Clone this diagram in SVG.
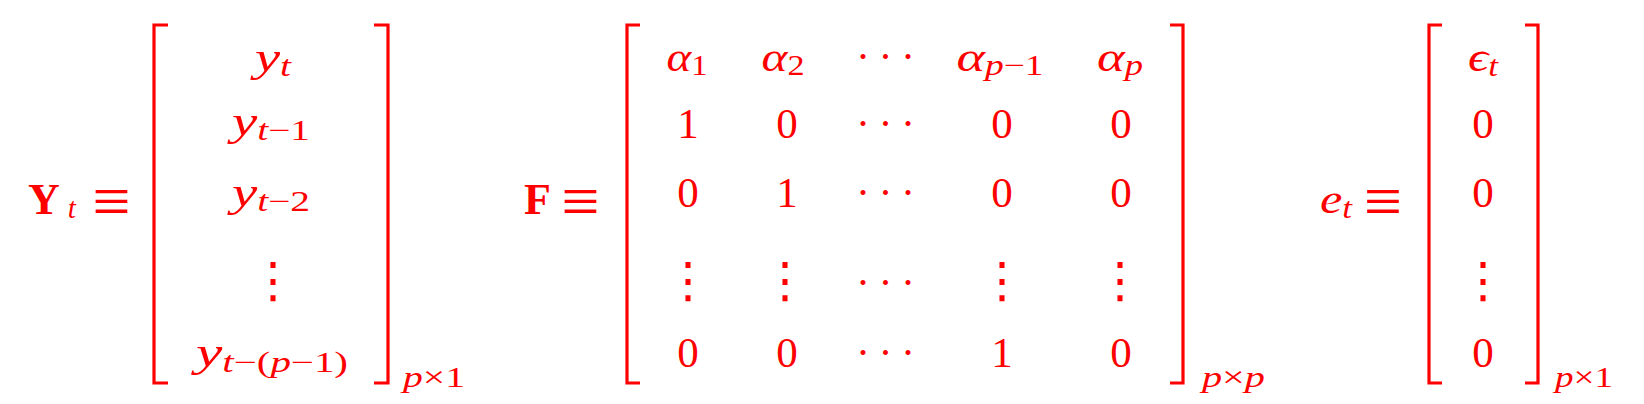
<svg xmlns="http://www.w3.org/2000/svg" width="1644" height="404" viewBox="0 0 1644 404">
<style>
.m{font-family:"Liberation Serif","DejaVu Serif",serif;fill:#ff0000;font-size:42px}
.d{font-size:43px}
.i{font-style:italic}
.b{font-weight:bold;font-size:44px}
.s{font-size:29px;font-weight:normal}
.eq{font-family:"Liberation Serif","DejaVu Serif",serif;fill:#ff0000;font-size:68px}
.vd{font-family:"DejaVu Sans",sans-serif;fill:#ff0000;font-size:49px}
.cd{letter-spacing:8.5px}
.br{fill:none;stroke:#ff0000;stroke-width:3.2}
</style>
<rect width="1644" height="404" fill="#ffffff"/>
<g id="Y-def">
<text class="m b" x="28" y="214">Y<tspan class="s i" dx="8" dy="4">t</tspan></text>
<text class="eq" x="111.5" y="224" text-anchor="middle">≡</text>
<path class="br" d="M168,25H154V383H168M374,25H388V383H374"/>
<text class="m" x="273" y="71" text-anchor="middle" textLength="36" lengthAdjust="spacingAndGlyphs"><tspan class="i">y</tspan><tspan class="s i" dy="5">t</tspan></text>
<text class="m" x="271" y="135" text-anchor="middle" textLength="78" lengthAdjust="spacingAndGlyphs"><tspan class="i">y</tspan><tspan class="s" dy="5"><tspan class="i">t</tspan>−1</tspan></text>
<text class="m" x="271" y="206" text-anchor="middle" textLength="78" lengthAdjust="spacingAndGlyphs"><tspan class="i">y</tspan><tspan class="s" dy="5"><tspan class="i">t</tspan>−2</tspan></text>
<text class="vd" x="273" y="297" text-anchor="middle">⋮</text>
<text class="m" x="272" y="366" text-anchor="middle" textLength="152" lengthAdjust="spacingAndGlyphs"><tspan class="i">y</tspan><tspan class="s" dy="6"><tspan class="i">t</tspan>−(<tspan class="i">p</tspan>−1)</tspan></text>
<text class="m s" x="403" y="387" textLength="62" lengthAdjust="spacingAndGlyphs"><tspan class="i">p</tspan>×1</text>
</g>
<g id="F-def">
<text class="m b" x="524" y="214">F</text>
<text class="eq" x="580.5" y="224" text-anchor="middle">≡</text>
<path class="br" d="M640,25H627V383H640M1170,25H1183V383H1170"/>
<text class="m" x="687" y="71" text-anchor="middle" textLength="41" lengthAdjust="spacingAndGlyphs"><tspan class="i">α</tspan><tspan class="s" dy="4">1</tspan></text>
<text class="m" x="783" y="71" text-anchor="middle" textLength="43" lengthAdjust="spacingAndGlyphs"><tspan class="i">α</tspan><tspan class="s" dy="4">2</tspan></text>
<text class="m cd" x="856" y="71">···</text>
<text class="m" x="1000" y="71" text-anchor="middle" textLength="87" lengthAdjust="spacingAndGlyphs"><tspan class="i">α</tspan><tspan class="s" dy="4"><tspan class="i">p</tspan>−1</tspan></text>
<text class="m" x="1120" y="71" text-anchor="middle" textLength="46" lengthAdjust="spacingAndGlyphs"><tspan class="i">α</tspan><tspan class="s i" dy="4">p</tspan></text>
<text class="m d" x="688" y="138" text-anchor="middle">1</text>
<text class="m d" x="787" y="138" text-anchor="middle">0</text>
<text class="m cd" x="856" y="138">···</text>
<text class="m d" x="1002" y="138" text-anchor="middle">0</text>
<text class="m d" x="1121" y="138" text-anchor="middle">0</text>
<text class="m d" x="688" y="207" text-anchor="middle">0</text>
<text class="m d" x="787" y="207" text-anchor="middle">1</text>
<text class="m cd" x="856" y="207">···</text>
<text class="m d" x="1002" y="207" text-anchor="middle">0</text>
<text class="m d" x="1121" y="207" text-anchor="middle">0</text>
<text class="vd" x="688" y="297" text-anchor="middle">⋮</text>
<text class="vd" x="785" y="297" text-anchor="middle">⋮</text>
<text class="m cd" x="856" y="297">···</text>
<text class="vd" x="1002" y="297" text-anchor="middle">⋮</text>
<text class="vd" x="1120" y="297" text-anchor="middle">⋮</text>
<text class="m d" x="688" y="367" text-anchor="middle">0</text>
<text class="m d" x="787" y="367" text-anchor="middle">0</text>
<text class="m cd" x="856" y="367">···</text>
<text class="m d" x="1002" y="367" text-anchor="middle">1</text>
<text class="m d" x="1121" y="367" text-anchor="middle">0</text>
<text class="m s" x="1202" y="387" textLength="63" lengthAdjust="spacingAndGlyphs"><tspan class="i">p</tspan>×<tspan class="i">p</tspan></text>
</g>
<g id="e-def">
<text class="m" x="1320" y="213" textLength="32" lengthAdjust="spacingAndGlyphs"><tspan class="i">e</tspan><tspan class="s i" dy="5">t</tspan></text>
<text class="eq" x="1383" y="224" text-anchor="middle">≡</text>
<path class="br" d="M1442,25H1429V383H1442M1525,25H1538V383H1525"/>
<text class="m" x="1483" y="71" text-anchor="middle" textLength="30" lengthAdjust="spacingAndGlyphs"><tspan class="i">ϵ</tspan><tspan class="s i" dy="5">t</tspan></text>
<text class="m d" x="1483" y="138" text-anchor="middle">0</text>
<text class="m d" x="1483" y="207" text-anchor="middle">0</text>
<text class="vd" x="1483" y="297" text-anchor="middle">⋮</text>
<text class="m d" x="1483" y="367" text-anchor="middle">0</text>
<text class="m s" x="1555" y="387" textLength="58" lengthAdjust="spacingAndGlyphs"><tspan class="i">p</tspan>×1</text>
</g>
</svg>
